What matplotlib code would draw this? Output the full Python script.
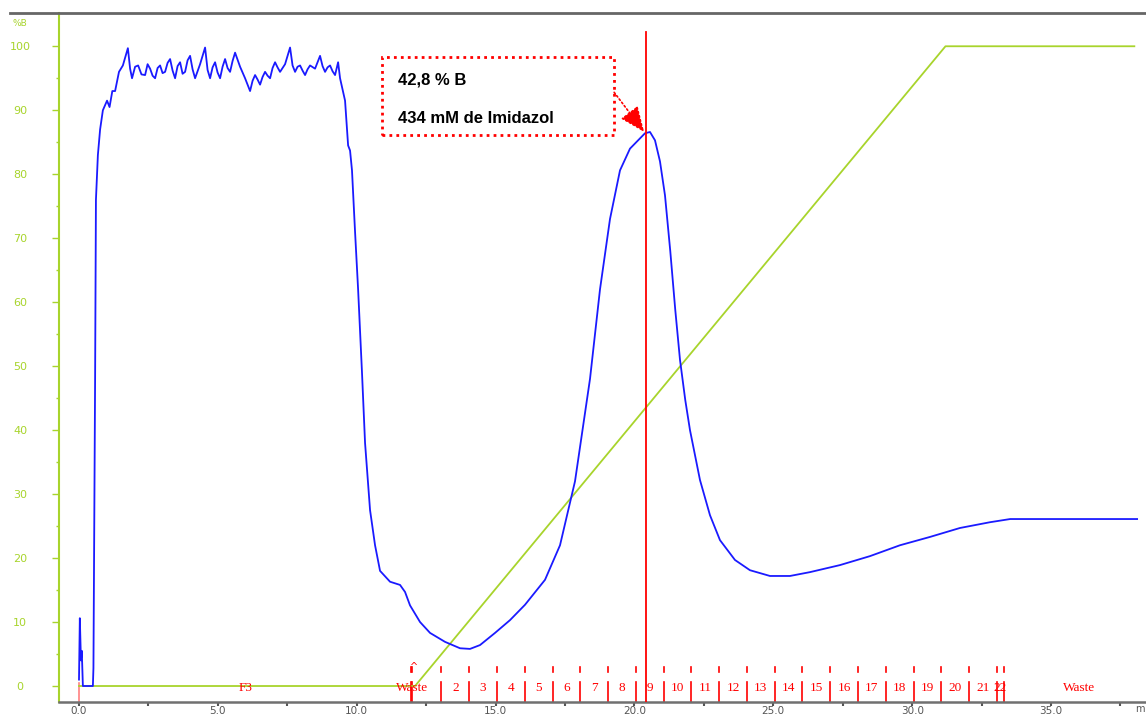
import numpy as np
import matplotlib
matplotlib.use("Agg")
import matplotlib.pyplot as plt
from matplotlib.lines import Line2D
import matplotlib.patches as patches

# UV trace (blue)
uv_x = [0.0, 0.03, 0.07, 0.10, 0.14, 0.50, 0.52, 0.58, 0.61, 0.68, 0.76, 0.86, 1.01, 1.10, 1.20,
        1.30, 1.44, 1.58, 1.76, 1.84, 1.91, 2.02, 2.13, 2.25, 2.38, 2.47, 2.56, 2.65, 2.74,
        2.83, 2.92, 3.01, 3.10, 3.19, 3.28, 3.37, 3.46, 3.55, 3.64, 3.73, 3.82, 3.91, 4.00,
        4.09, 4.18, 4.36, 4.54, 4.63, 4.72, 4.81, 4.90, 4.99, 5.08, 5.17, 5.26, 5.35, 5.44,
        5.53, 5.62, 5.80, 5.98, 6.07, 6.16, 6.25, 6.34, 6.43, 6.52, 6.61, 6.70, 6.79, 6.88,
        6.97, 7.06, 7.15, 7.24, 7.42, 7.60, 7.69, 7.78, 7.87, 7.96, 8.05, 8.14, 8.23, 8.32,
        8.50, 8.68, 8.77, 8.86, 8.95, 9.04, 9.13, 9.22, 9.33,
        9.40, 9.58, 9.69, 9.76, 9.83, 9.94, 10.05, 10.19, 10.30, 10.48, 10.66, 10.84, 11.20,
        11.56, 11.74, 11.92, 12.28, 12.64, 13.18, 13.72, 14.08, 14.44, 14.98, 15.52, 16.06,
        16.78, 17.32, 17.86, 18.40, 18.76, 19.12, 19.48, 19.84, 20.20, 20.38, 20.56, 20.74,
        20.92, 21.10, 21.29, 21.47, 21.64, 21.83, 22.00, 22.36, 22.72, 23.08, 23.62, 24.16,
        24.88, 25.60, 26.32, 27.40, 28.48, 29.56, 30.64, 31.72, 32.80, 33.53, 34.60, 38.10]
uv_y = [1.0, 10.6, 4.0, 5.5, 0.0, 0.0, 2.8, 48.0, 76.0, 83.0, 87.0, 90.0, 91.5, 90.5, 93.0,
        93.0, 96.0, 97.0, 99.7, 96.5, 95.0, 96.8, 97.0, 95.6, 95.5, 97.2, 96.5, 95.4, 95.0,
        96.6, 97.0, 95.8, 96.0, 97.4, 98.0, 96.2, 95.0, 96.9, 97.5, 95.7, 96.0, 97.8, 98.5,
        96.4, 95.0, 97.2, 99.8, 96.3, 95.0, 96.7, 97.5, 95.9, 95.0, 96.8, 98.0, 96.6, 96.0,
        97.7, 99.0, 96.8, 95.0, 94.0, 93.0, 94.6, 95.5, 94.8, 94.0, 95.2, 96.0, 95.4, 95.0,
        96.6, 97.5, 96.7, 96.0, 97.2, 99.8, 97.0, 96.0, 96.8, 97.0, 96.2, 95.5, 96.4, 97.0,
        96.5, 98.5, 96.9, 96.0, 96.7, 97.0, 96.1, 95.5, 97.5,
        95.0, 91.5, 84.5, 83.7, 80.6, 71.0, 62.0, 49.0, 38.0, 27.5, 22.0, 18.0, 16.3,
        15.8, 14.7, 12.6, 10.0, 8.3, 6.9, 5.9, 5.8, 6.4, 8.3, 10.3, 12.7,
        16.6, 22.0, 32.0, 48.0, 62.0, 73.0, 80.6, 84.0, 85.6, 86.4, 86.6, 85.3,
        82.0, 76.7, 68.0, 58.8, 51.0, 44.7, 40.0, 32.2, 26.7, 22.8, 19.7, 18.1,
        17.2, 17.2, 17.8, 18.9, 20.3, 22.0, 23.3, 24.7, 25.6, 26.1, 26.1, 26.1]

# gradient %B (green)
grad_x = [0.0, 12.1, 31.2, 38.0]
grad_y = [0.0, 0.0, 100.0, 100.0]

# fraction marks
frac_edges = [11.95, 12.0, 13.05, 14.05, 15.05, 16.05, 17.05, 18.05, 19.05, 20.05, 21.05,
              22.05, 23.05, 24.05, 25.05, 26.05, 27.05, 28.05, 29.05, 30.05, 31.05, 32.05,
              33.05, 33.3]
frac_labels = [str(i) for i in range(2, 23)]

mark_x = 20.42
anno_lines = ["42,8 % B", "434 mM de Imidazol"]

green = "#a8d42c"
red = "#ff0000"

fig = plt.figure(figsize=(11.46, 7.16), dpi=100)
ax = fig.add_axes([59 / 1146, 1 - 702 / 716, 1 - 59 / 1146, (702 - 13) / 716])
ax.set_xlim(-0.72, 38.42)
ax.set_ylim(-2.5, 105.2)

ax.plot(grad_x, grad_y, color=green, lw=1.3, zorder=2)
ax.plot(uv_x, uv_y, color="#1a1aff", lw=1.3, zorder=3)
ax.axvline(mark_x, ymax=(102.2 + 2.5) / 107.7, color=red, lw=1.3, zorder=4)

# fraction ticks + labels
for e in frac_edges:
    ax.plot([e, e], [-2.5, 0.6], color=red, lw=1.2, zorder=1)
    ax.plot([e, e], [2.2, 3.0], color=red, lw=1.2, zorder=1)
mids = [(frac_edges[i] + frac_edges[i + 1]) / 2 for i in range(2, len(frac_edges) - 1)]
for m, lab in zip(mids, frac_labels):
    ax.text(m, -0.3, lab, color=red, fontsize=9.5, family="Liberation Serif",
            ha="center", va="center", zorder=5)
ax.plot([0, 0], [-2.5, 0.5], color="#ff8080", lw=1.2, zorder=1)
ax.text(6.0, -0.3, "F3", color=red, fontsize=9.5, family="Liberation Serif", ha="center", va="center")
ax.text(12.0, -0.3, "Waste", color=red, fontsize=9.5, family="Liberation Serif", ha="center", va="center")
ax.text(36.0, -0.3, "Waste", color=red, fontsize=9.5, family="Liberation Serif", ha="center", va="center")
ax.text(12.05, 2.9, "^", color=red, fontsize=7, ha="center", va="center")

# annotation box
box = patches.Rectangle((10.91, 86.1), 19.27 - 10.91, 98.3 - 86.1, fill=False,
                        edgecolor=red, lw=2, linestyle=(0, (1, 1.5)), zorder=6)
ax.add_patch(box)
ax.text(11.49, 94.7, anno_lines[0], fontsize=12, fontweight="bold",
        family="Liberation Sans", va="center", ha="left", zorder=7)
ax.text(11.49, 88.75, anno_lines[1], fontsize=12, fontweight="bold",
        family="Liberation Sans", va="center", ha="left", zorder=7)
ax.annotate("", xy=(20.35, 86.6), xytext=(19.27, 92.8),
            arrowprops=dict(arrowstyle="-|>,head_length=1.3,head_width=0.55", color=red,
                            lw=1.2, linestyle=(0, (1, 1.5)), shrinkA=0, shrinkB=0,
                            mutation_scale=12), zorder=7)

# axes styling
for s in ["top", "right"]:
    ax.spines[s].set_visible(False)
ax.spines["left"].set_color(green)
ax.spines["left"].set_linewidth(1.5)
ax.spines["bottom"].set_color("#707070")
ax.spines["bottom"].set_linewidth(1.8)

ax.set_yticks(np.arange(0, 101, 10))
ax.set_yticks(np.arange(5, 100, 10), minor=True)
ax.tick_params(axis="y", which="major", colors=green, length=5, width=1, labelsize=8, pad=23)
ax.tick_params(axis="y", which="minor", colors=green, length=2.5, width=1)
for t in ax.get_yticklabels():
    t.set_horizontalalignment("center")

ax.set_xticks(np.arange(0, 36, 5))
ax.set_xticklabels(["%.1f" % v for v in np.arange(0, 36, 5)])
ax.set_xticks(np.arange(2.5, 38, 5), minor=True)
ax.tick_params(axis="x", which="major", colors="#555555", length=3, width=1.5, labelsize=7.5, pad=0)
ax.tick_params(axis="x", which="minor", colors="#555555", length=3, width=1.5)
ax.text(0.999, -0.003, "m", transform=ax.transAxes, fontsize=7, color="#555555", ha="right", va="top")

ax.text(-2.12, 103.6, "%B", color=green, fontsize=6.5, ha="center", va="center", clip_on=False)

fig.add_artist(Line2D([10 / 1146, 1], [1 - 13 / 716, 1 - 13 / 716], color="#666666", lw=2))

fig.savefig("out.png", dpi=100)
